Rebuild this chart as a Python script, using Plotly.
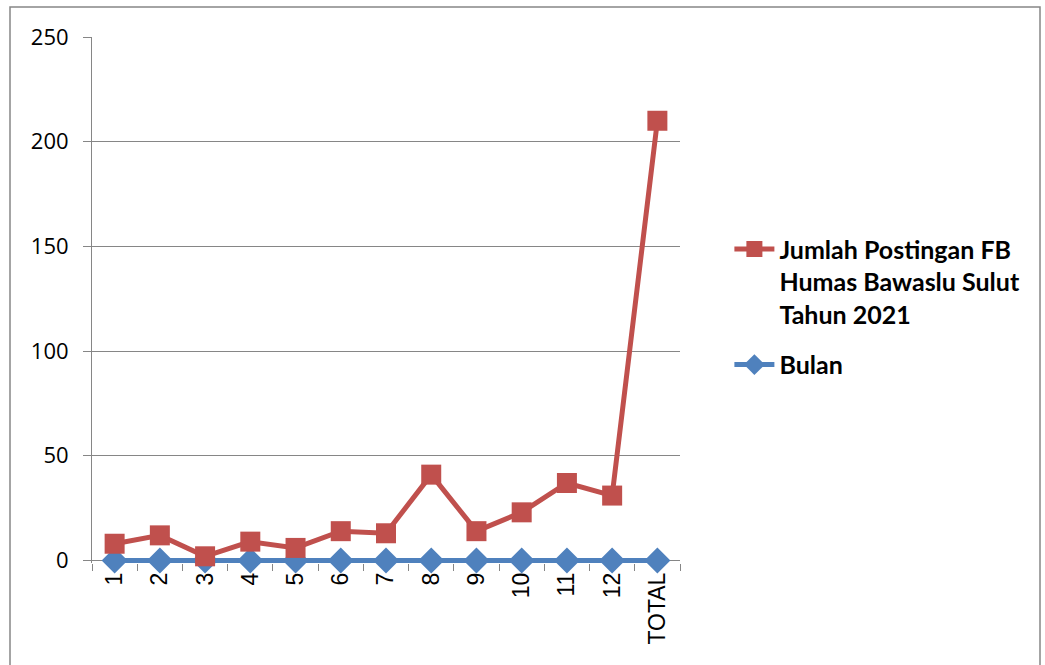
import plotly.graph_objects as go

categories = ["1", "2", "3", "4", "5", "6", "7", "8", "9", "10", "11", "12", "TOTAL"]
postingan = [8, 12, 2, 9, 6, 14, 13, 41, 14, 23, 37, 31, 210]
bulan = [0, 0, 0, 0, 0, 0, 0, 0, 0, 0, 0, 0, 0]
y_ticks = [0, 50, 100, 150, 200, 250]

RED = "#C0504D"
BLUE = "#4F81BD"
GRID = "#868686"

Y_MIN = -1.2  # tiny headroom below 0 so the zero-level line is not clipped

fig = go.Figure()
fig.add_trace(go.Scatter(
    x=categories, y=bulan, mode="lines+markers", name="Bulan",
    legendgroup="b", legendrank=2, cliponaxis=False,
    line=dict(color=BLUE, width=5),
    marker=dict(symbol="diamond", size=20, color=BLUE),
))
fig.add_trace(go.Scatter(
    x=categories, y=postingan, mode="lines+markers",
    name="Jumlah Postingan FB<br>Humas Bawaslu Sulut<br>Tahun 2021",
    legendgroup="a", legendrank=1, cliponaxis=False,
    line=dict(color=RED, width=5),
    marker=dict(symbol="square", size=20, color=RED),
))

fig.update_layout(
    width=1045, height=665,
    margin=dict(l=92, r=365, t=37, b=101.5),
    paper_bgcolor="white", plot_bgcolor="white",
    showlegend=True,
    legend=dict(
        x=1.084, y=0.64, xanchor="left", yanchor="top",
        traceorder="grouped", valign="top",
        font=dict(family="Lato", size=25, color="black", weight="bold"),
        itemwidth=40, tracegroupgap=15,
        bgcolor="rgba(0,0,0,0)",
    ),
    font=dict(family="Open Sans", color="black"),
)

fig.update_xaxes(
    type="category", categoryorder="array", categoryarray=categories,
    range=[-0.5, len(categories) - 0.5],
    showgrid=False, showline=False,
    ticks="outside", ticklen=7, tickcolor=GRID, tickson="boundaries",
    tickangle=-90, ticklabelstandoff=4, layer="below traces",
    tickfont=dict(family="Liberation Sans", size=23, color="black"),
    zeroline=False,
)
fig.update_yaxes(
    range=[Y_MIN, 250], tickvals=y_ticks,
    showgrid=True, gridcolor=GRID, gridwidth=1,
    showline=True, linecolor=GRID, linewidth=1,
    ticks="outside", ticklen=8, tickcolor=GRID, ticklabelstandoff=10,
    layer="below traces",
    tickfont=dict(family="Open Sans", size=22, color="black"),
    zeroline=False,
)

# outer chart border
fig.add_shape(
    type="rect", xref="paper", yref="paper",
    x0=(10 - 92) / 588, x1=(1040 - 92) / 588,
    y0=-0.3, y1=(563.5 - 7) / 526.5,
    line=dict(color=GRID, width=1.5), fillcolor="rgba(0,0,0,0)", layer="below",
)

fig.write_html("out.html")
